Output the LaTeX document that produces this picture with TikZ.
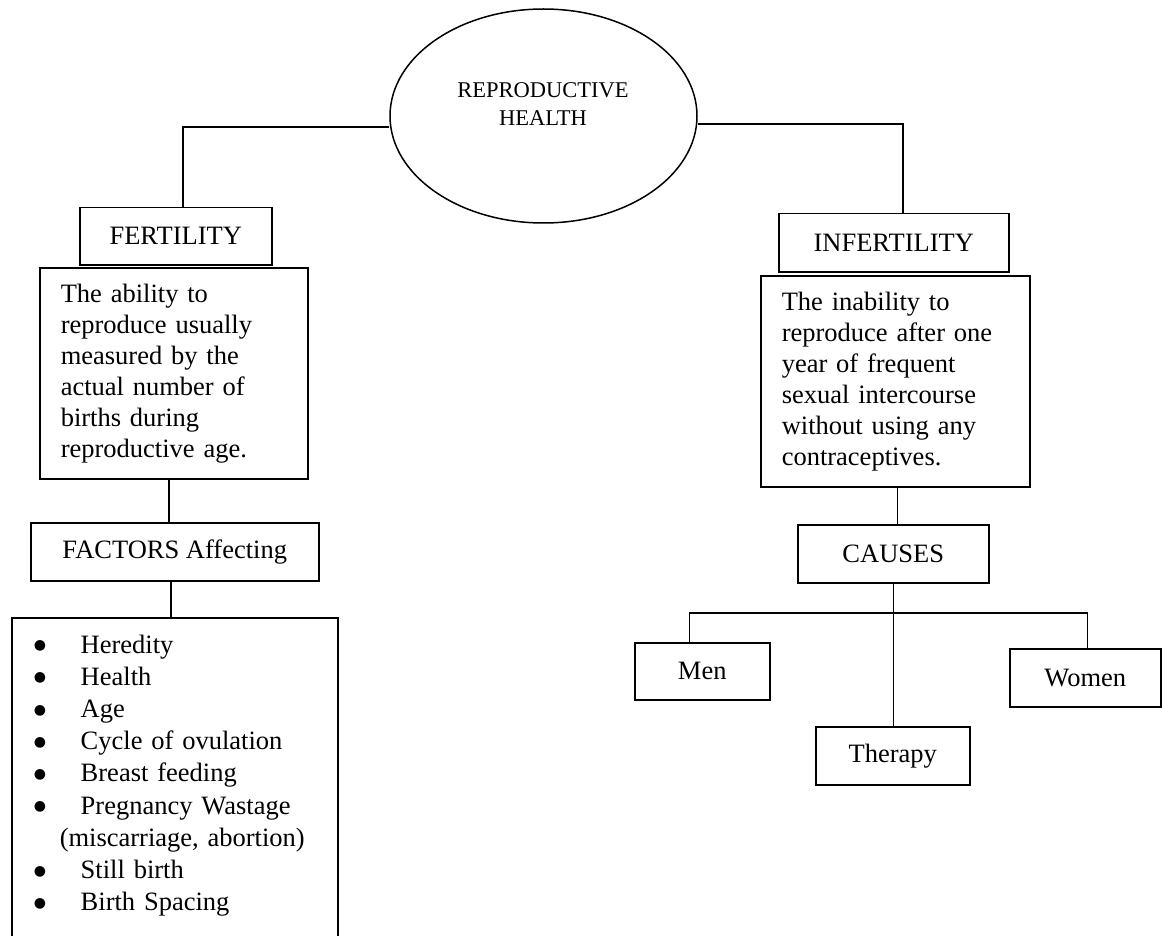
\documentclass[tikz,border=0pt]{standalone}
\usepackage{fontspec}
\setmainfont{Liberation Serif}
\newfontfamily\symb{DejaVu Sans}
\usetikzlibrary{shapes.geometric}
\newcommand{\puce}[1]{\makebox[47pt][l]{\raisebox{3.5pt}{\symb\fontsize{14}{14}\selectfont ●}}#1}

\begin{document}
\begin{tikzpicture}[x=1pt,y=-1pt]
\tikzstyle{lien}=[line width=1.5pt]
\tikzset{boite/.style={draw,line width=1.5pt,anchor=north west,inner sep=0pt,
  font=\fontsize{26.5}{31}\selectfont},
texte/.style={boite,align=left,inner xsep=21pt,text width=#1},
texte/.default={226pt}}
\useasboundingbox (0,0) rectangle (1162,936);

\node[ellipse,draw,line width=1.5pt,minimum width=307pt,minimum height=214pt] (sante) at (543.5,116) {};
\node[align=center,font=\fontsize{22.5}{28}\selectfont] (santetitre) at (543,104) {REPRODUCTIVE\\HEALTH};

\node[boite,minimum width=192pt,minimum height=57pt] (fert) at (79,207) {FERTILITY};
\node[texte,minimum width=268pt,minimum height=211pt] (fertdef) at (39,267)
  {The ability to\\reproduce usually\\measured by the\\actual number of\\births during\\reproductive age.};
\node[boite,minimum width=288pt,minimum height=58pt] (facteurs) at (30,522) {FACTORS Affecting};
\node[boite,align=left,inner xsep=22pt,inner ysep=17pt,text width=282pt,
  font=\fontsize{26.5}{32.2}\selectfont] (liste) at (11,617)
  {\puce{Heredity}\\\puce{Health}\\\puce{Age}\\\puce{Cycle of ovulation}\\\puce{Breast feeding}\\
   \puce{Pregnancy Wastage}\\\hspace*{26pt}(miscarriage, abortion)\\\puce{Still birth}\\\puce{Birth Spacing}\\\mbox{}};

\node[boite,minimum width=230pt,minimum height=58pt] (infert) at (778,213) {INFERTILITY};
\node[texte=227pt,minimum width=269pt,minimum height=211pt] (infertdef) at (760,275)
  {The inability to\\reproduce after one\\year of frequent\\sexual intercourse\\without using any\\contraceptives.};
\node[boite,minimum width=191pt,minimum height=58pt] (causes) at (797,524) {CAUSES};
\node[boite,minimum width=135pt,minimum height=57pt] (hommes) at (634,642) {Men};
\node[boite,minimum width=151pt,minimum height=58pt] (femmes) at (1009,648) {Women};
\node[boite,minimum width=154pt,minimum height=58pt] (therapie) at (815,726) {Therapy};

\draw[lien] ([yshift=-11pt]sante.west) -| ([xshift=7pt]fert.north);
\draw[lien] ([yshift=-8pt]sante.east) -| ([xshift=9pt]infert.north);
\draw[lien] ([xshift=-5pt]fertdef.south) -- ([xshift=-5pt]fertdef.south |- facteurs.north);
\draw[lien] ([xshift=-4pt]facteurs.south) -- ([xshift=-4pt]facteurs.south |- liste.north);
\draw[lien] ([xshift=2pt]infertdef.south) -- ([xshift=2pt]infertdef.south |- causes.north);
\draw[lien] (causes.south) -- (causes.south |- therapie.north);
\draw[lien] ([xshift=-13pt]hommes.north) -- ++(0,-29) -| ([xshift=2pt]femmes.north);

\end{tikzpicture}
\end{document}
